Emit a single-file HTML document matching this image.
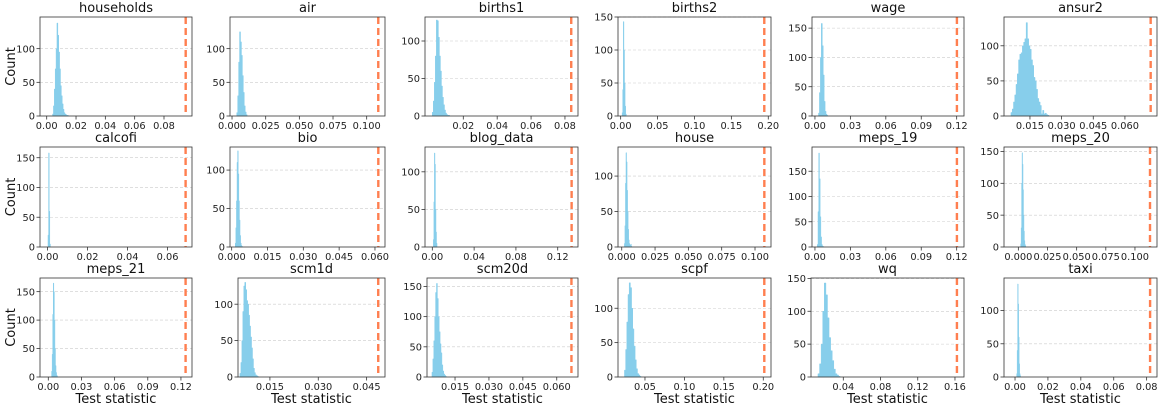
<!DOCTYPE html>
<html><head><meta charset="utf-8"><style>
html,body{margin:0;padding:0;background:#fff;}
svg{display:block;font-family:"DejaVu Sans","Liberation Sans",sans-serif;}
</style></head><body>
<svg id="chart" width="1162" height="409" viewBox="0 0 1162 409" xmlns="http://www.w3.org/2000/svg"></svg>
<script>
const names = ["households","air","births1","births2","wage","ansur2","calcofi","bio","blog_data","house","meps_19","meps_20","meps_21","scm1d","scm20d","scpf","wq","taxi"];
const observed = [0.0948,0.1086,0.0837,0.1946,0.1202,0.0722,0.0690,0.0614,0.1333,0.1070,0.1202,0.1129,0.1242,0.0486,0.0665,0.2013,0.1621,0.0821];
const histStart = [0.004,0.0035,0.0017,0.002,0.003,0.006,0.0002,0.0015,0.001,0.002,0.002,0.002,0.003,0.0057,0.0048,0.024,0.0128,0.001];
const histWidth = [0.0006,0.0007,0.0006,0.0008,0.0008,0.0006,0.0003,0.00025,0.0005,0.0004,0.0006,0.0004,0.0005,0.0003,0.0004,0.0015,0.0017,0.0003];
const counts = [
 [3,15,40,70,100,138,120,95,70,45,30,18,10,5,3,2,1,1],
 [5,30,80,125,110,90,60,35,15,6,2],
 [5,20,45,80,128,127,105,80,60,40,25,15,8,4,2,1,1],
 [5,40,143,100,50,15,3],
 [5,40,100,158,120,70,25,8,3,1],
 [5,10,20,30,45,60,80,88,90,100,105,110,133,110,100,95,80,72,55,50,38,25,20,15,3,8,3,4,2,1],
 [20,158,60,5],
 [5,25,60,110,125,95,60,35,15,5,2,1],
 [10,60,125,110,50,20,5],
 [5,30,90,133,120,80,50,25,10,5,3,1,4,1],
 [5,70,186,135,60,20,5,2,1],
 [5,30,100,148,130,90,50,25,10,4,2],
 [10,40,110,165,150,100,50,20,8,3,1],
 [5,20,50,90,125,130,120,105,100,85,70,55,40,25,12,6,3,2,1],
 [8,30,60,100,140,155,130,100,75,55,40,20,10,5,3,1],
 [10,40,80,120,137,130,100,70,45,25,12,5,3,1],
 [5,20,50,100,143,125,90,60,40,25,12,5,3,1],
 [5,40,140,110,60,20,5,2]
];
const xTicks = [
 [0,0.02,0.04,0.06,0.08],[0,0.025,0.05,0.075,0.1],[0.02,0.04,0.06,0.08],[0,0.05,0.1,0.15,0.2],[0,0.03,0.06,0.09,0.12],[0.015,0.03,0.045,0.06],
 [0,0.02,0.04,0.06],[0,0.015,0.03,0.045,0.06],[0,0.04,0.08,0.12],[0,0.025,0.05,0.075,0.1],[0,0.03,0.06,0.09,0.12],[0,0.025,0.05,0.075,0.1],
 [0,0.03,0.06,0.09,0.12],[0.015,0.03,0.045],[0.015,0.03,0.045,0.06],[0.05,0.1,0.15,0.2],[0.04,0.08,0.12,0.16],[0,0.02,0.04,0.06,0.08]
];
const xDecimals = [2,3,2,2,2,3, 2,3,2,3,2,3, 2,3,3,2,2,2];
const yTicks = [
 [0,50,100],[0,50,100],[0,50,100],[0,50,100,150],[0,50,100,150],[0,50,100],
 [0,50,100,150],[0,50,100],[0,50,100],[0,50,100],[0,50,100,150],[0,50,100,150],
 [0,50,100,150],[0,50,100],[0,50,100,150],[0,50,100],[0,50,100,150],[0,50,100]
];
const xMin = [-0.00457,-0.0015,-0.0026,-0.0036,-0.0025,0.0027,-0.0038,-0.0007,-0.007,-0.0028,-0.0025,-0.0123,-0.0075,0.0051,0.0026,0.0158,0.0053,-0.0067];
const xMax = [0.0991,0.1136,0.0877,0.2037,0.1262,0.0752,0.0722,0.0642,0.1394,0.112,0.1262,0.1189,0.13,0.0507,0.0694,0.2098,0.1697,0.0863];
const yMax = [147,147,132,150,169,141,168,130,133,141,198,157,174,136,164,144,150.6,149];

const boxX0 = [40,230,425,618,812,1004, 40,230,425,618,812,1004, 40,238,427,618,811,1004];
const boxX1 = [192,385,578,771,964,1157, 192,385,578,771,964,1157, 192,385,578,771,964,1157];
const rowTop = [17,147,278], rowBot = [116,247,377];

const NS = "http://www.w3.org/2000/svg";
const svg = document.getElementById('chart');
function mk(tag, attrs, parent, text){
  const e = document.createElementNS(NS, tag);
  for (const k in attrs) e.setAttribute(k, attrs[k]);
  if (text !== undefined) e.textContent = text;
  (parent || svg).appendChild(e);
  return e;
}
for (let i = 0; i < 18; i++){
  const row = Math.floor(i/6), col = i % 6;
  const x0 = boxX0[i], x1 = boxX1[i], y0 = rowTop[row], y1 = rowBot[row];
  const sx = v => x0 + (v - xMin[i]) / (xMax[i] - xMin[i]) * (x1 - x0);
  const sy = v => y1 - v / yMax[i] * (y1 - y0);
  const g = mk('g', {});
  
  
  yTicks[i].forEach(t => {
    if (t === 0) return;
    const gl = mk('line', {x1:x0, x2:x1, y1:sy(t), y2:sy(t), stroke:'#cccccc', 'stroke-width':0.6, 'stroke-dasharray':'3,2'}, g);
    
    
  });
  // histogram as a single step outline path (no seams between bins)
  let d = 'M' + sx(histStart[i]) + ',' + sy(0);
  counts[i].forEach((c, k) => {
    const a = histStart[i] + k*histWidth[i];
    d += ' L' + sx(a) + ',' + sy(c) + ' L' + sx(a+histWidth[i]) + ',' + sy(c);
  });
  d += ' L' + sx(histStart[i] + counts[i].length*histWidth[i]) + ',' + sy(0) + ' Z';
  const hp = mk('path', {d:d, fill:'#87ceeb', stroke:'#87ceeb', 'stroke-width':0.5}, g);
  
  
  const ol = mk('line', {x1:sx(observed[i]), x2:sx(observed[i]), y1:y0, y2:y1, stroke:'#ff7f50', 'stroke-width':2.4, 'stroke-dasharray':'7,4'}, g);
  
  
  const fr = mk('rect', {x:x0, y:y0, width:x1-x0, height:y1-y0, fill:'none', stroke:'#333', 'stroke-width':0.8}, g);
  
  
  xTicks[i].forEach(t => {
    const x = sx(t);
    mk('line', {x1:x, x2:x, y1:y1, y2:y1+3.5, stroke:'#333', 'stroke-width':0.8}, g);
    const tl = mk('text', {x:x, y:y1+13, 'font-size':9.8, 'text-anchor':'middle', fill:'#222'}, g, t.toFixed(xDecimals[i]));
    
    
  });
  yTicks[i].forEach(t => {
    const y = sy(t);
    mk('line', {x1:x0-3.5, x2:x0, y1:y, y2:y, stroke:'#333', 'stroke-width':0.8}, g);
    const tl = mk('text', {x:x0-5, y:y+3.6, 'font-size':9.8, 'text-anchor':'end', fill:'#222'}, g, String(t));
    
    
  });
  const tt = mk('text', {x:(x0+x1)/2, y:y0-5, 'font-size':13, 'text-anchor':'middle', fill:'#111'}, g, names[i]);
  
  
  if (col === 0){
    const yl = mk('text', {x:0, y:0, 'font-size':13, 'text-anchor':'middle', fill:'#111', transform:'translate(15,' + ((y0+y1)/2) + ') rotate(-90)'}, g, 'Count');
    
    
  }
  if (row === 2){
    const xl = mk('text', {x:(x0+x1)/2, y:403, 'font-size':13, 'text-anchor':'middle', fill:'#111'}, g, 'Test statistic');
    
    
  }
}
</script>
</body></html>
